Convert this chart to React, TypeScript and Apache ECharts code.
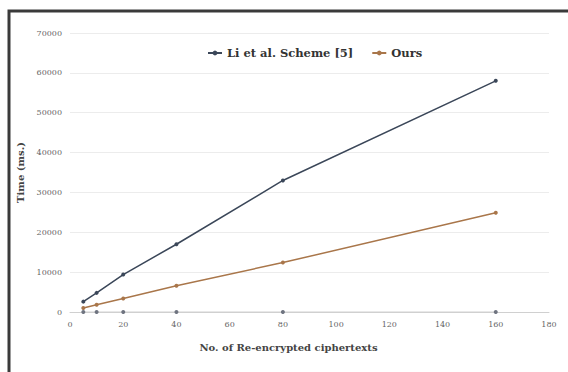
import React, { useEffect, useRef } from "react";
import * as echarts from "echarts";

const xValues = [5, 10, 20, 40, 80, 160];
const liScheme = [2600, 4800, 9400, 17000, 33000, 58000];
const ours = [1000, 1800, 3400, 6600, 12400, 24900];
const baseline = [0, 0, 0, 0, 0, 0];
const seriesNames = ["Li et al. Scheme [5]", "Ours"];

const FONT = "'DejaVu Serif', 'Liberation Serif', serif";

export default function App() {
  const ref = useRef<HTMLDivElement>(null);
  useEffect(() => {
    if (!ref.current) return;
    const chart = echarts.init(ref.current, undefined, { renderer: "svg" });
    const pair = (arr: number[]) => xValues.map((x, i) => [x, arr[i]]);
    chart.setOption({
      animation: false,
      backgroundColor: "#ffffff",
      textStyle: { fontFamily: FONT },
      graphic: [
        {
          type: "rect",
          shape: { x: 9, y: 11, width: 570, height: 370 },
          style: { fill: "none", stroke: "#3a3a3a", lineWidth: 3 },
          silent: true,
        },
      ],
      legend: {
        data: seriesNames,
        top: 42,
        left: 202,
        itemGap: 18,
        itemWidth: 14,
        itemHeight: 6,
        textStyle: { fontFamily: FONT, fontSize: 11.5, fontWeight: "bold", color: "#333" },
      },
      grid: { left: 70, right: 19, top: 33, bottom: 60 },
      xAxis: {
        type: "value",
        min: 0,
        max: 180,
        interval: 20,
        name: "No. of Re-encrypted ciphertexts",
        nameLocation: "middle",
        nameGap: 30,
        nameTextStyle: {
          fontFamily: FONT,
          fontSize: 10,
          fontWeight: "bold",
          color: "#444",
          padding: [0, 42, 0, 0],
        },
        axisLine: { show: true, lineStyle: { color: "#d0d0d0", width: 1 } },
        axisTick: { show: false },
        splitLine: { show: false },
        axisLabel: { fontFamily: FONT, fontSize: 8, color: "#666666", margin: 8, formatter: (v: number) => String(v) },
      },
      yAxis: {
        type: "value",
        min: 0,
        max: 70000,
        interval: 10000,
        name: "Time (ms.)",
        nameLocation: "middle",
        nameGap: 40,
        nameTextStyle: { fontFamily: FONT, fontSize: 10, fontWeight: "bold", color: "#444" },
        axisLine: { show: false },
        axisTick: { show: false },
        splitLine: { lineStyle: { color: "#ececec", width: 1 } },
        axisLabel: { fontFamily: FONT, fontSize: 8, color: "#666666", margin: 8, formatter: (v: number) => String(v) },
      },
      series: [
        {
          name: seriesNames[0],
          type: "line",
          data: pair(liScheme),
          symbol: "circle",
          symbolSize: 4,
          lineStyle: { color: "#3b4759", width: 1.5 },
          itemStyle: { color: "#3b4759" },
          z: 3,
        },
        {
          name: seriesNames[1],
          type: "line",
          data: pair(ours),
          symbol: "circle",
          symbolSize: 4,
          lineStyle: { color: "#a9764a", width: 1.5 },
          itemStyle: { color: "#a9764a" },
          z: 3,
        },
        {
          name: "baseline",
          type: "line",
          data: pair(baseline),
          symbol: "circle",
          symbolSize: 4,
          lineStyle: { color: "#d0d0d0", width: 1 },
          itemStyle: { color: "#6f7480" },
          z: 2,
        },
      ],
    });
    return () => chart.dispose();
  }, []);
  return (
    <div
      ref={ref}
      style={{ position: "fixed", left: 0, top: 0, width: 568, height: 372 }}
    />
  );
}
